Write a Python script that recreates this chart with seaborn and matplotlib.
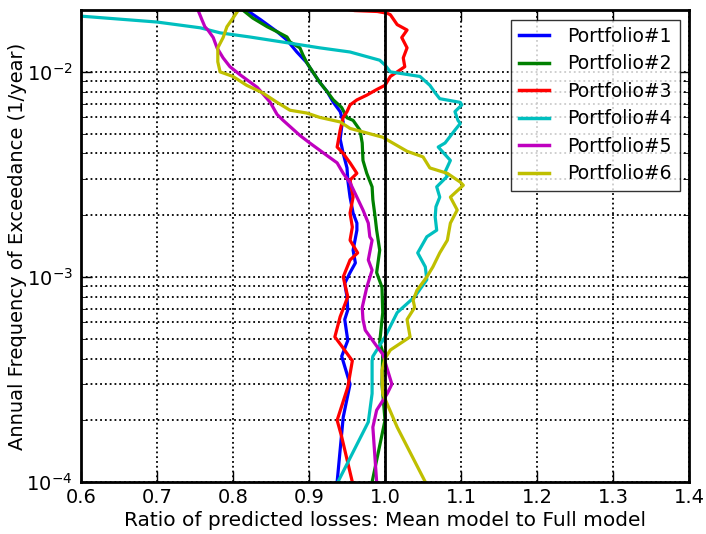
import matplotlib
matplotlib.use("Agg")
import matplotlib.pyplot as plt
import seaborn as sns
import pandas as pd
from matplotlib.ticker import LogLocator, NullFormatter

# Ratio (mean model / full model) and annual exceedance frequency for each portfolio
p1_ratio = [0.818, 0.836, 0.858, 0.871, 0.884, 0.897, 0.901, 0.914, 0.924, 0.932, 0.941, 0.945,
            0.943, 0.941, 0.945, 0.950, 0.951, 0.954, 0.958, 0.963, 0.963, 0.958, 0.961, 0.954,
            0.947, 0.950, 0.951, 0.947, 0.951, 0.943, 0.954, 0.945, 0.937]
p1_freq = [2.0e-2, 1.80e-2, 1.57e-2, 1.43e-2, 1.25e-2, 1.11e-2, 1.05e-2, 8.9e-3, 8.0e-3, 7.1e-3,
           6.4e-3, 5.7e-3, 5.4e-3, 4.7e-3, 4.0e-3, 3.4e-3, 2.97e-3, 2.45e-3, 2.05e-3, 1.83e-3,
           1.69e-3, 1.35e-3, 1.17e-3, 1.05e-3, 9.3e-4, 8.0e-4, 6.9e-4, 6.2e-4, 4.9e-4, 4.1e-4,
           3.0e-4, 2.07e-4, 1.0e-4]

p2_ratio = [0.813, 0.826, 0.845, 0.858, 0.871, 0.875, 0.888, 0.892, 0.897, 0.905, 0.914, 0.924,
            0.932, 0.943, 0.950, 0.958, 0.967, 0.970, 0.971, 0.976, 0.983, 0.984, 0.987, 0.989,
            0.993, 0.989, 0.996, 0.997, 0.993, 0.997, 0.996, 1.000, 0.983]
p2_freq = [2.0e-2, 1.83e-2, 1.66e-2, 1.57e-2, 1.48e-2, 1.40e-2, 1.31e-2, 1.21e-2, 1.11e-2, 1.0e-2,
           8.9e-3, 8.0e-3, 7.3e-3, 6.7e-3, 5.97e-3, 5.8e-3, 5.2e-3, 4.5e-3, 3.7e-3, 3.2e-3,
           2.75e-3, 2.38e-3, 1.96e-3, 1.69e-3, 1.35e-3, 1.05e-3, 8.9e-4, 6.7e-4, 4.8e-4, 4.3e-4,
           3.0e-4, 2.0e-4, 1.0e-4]

p3_ratio = [0.940, 0.960, 0.990, 1.003, 1.007, 1.016, 1.029, 1.022, 1.029, 1.024, 1.026, 1.016,
            1.007, 1.000, 0.989, 0.976, 0.963, 0.954, 0.950, 0.945, 0.941, 0.937, 0.945, 0.954,
            0.963, 0.954, 0.958, 0.954, 0.957, 0.954, 0.964, 0.954, 0.945, 0.951, 0.941, 0.934,
            0.943, 0.957, 0.951, 0.937, 0.943, 0.957]
p3_freq = [2.05e-2, 1.99e-2, 1.97e-2, 1.93e-2, 1.90e-2, 1.70e-2, 1.60e-2, 1.47e-2, 1.31e-2, 1.17e-2,
           1.06e-2, 1.0e-2, 9.5e-3, 8.6e-3, 8.2e-3, 7.7e-3, 7.3e-3, 6.9e-3, 6.4e-3, 6.0e-3,
           5.2e-3, 4.3e-3, 4.0e-3, 3.6e-3, 3.2e-3, 2.97e-3, 2.45e-3, 2.05e-3, 1.75e-3, 1.51e-3,
           1.31e-3, 1.21e-3, 1.0e-3, 8.0e-4, 6.4e-4, 5.1e-4, 4.6e-4, 3.9e-4, 2.9e-4, 2.0e-4,
           1.66e-4, 1.0e-4]

p4_ratio = [0.600, 0.700, 0.757, 0.783, 0.822, 0.875, 0.914, 0.954, 0.993, 1.000, 1.007, 1.046,
            1.059, 1.066, 1.072, 1.099, 1.101, 1.092, 1.096, 1.099, 1.092, 1.079, 1.070, 1.086,
            1.079, 1.082, 1.068, 1.072, 1.067, 1.066, 1.068, 1.055, 1.043, 1.053, 1.055, 1.039,
            1.016, 1.000, 0.984, 0.983, 0.983, 0.978, 0.938]
p4_freq = [1.87e-2, 1.75e-2, 1.64e-2, 1.55e-2, 1.48e-2, 1.38e-2, 1.31e-2, 1.25e-2, 1.14e-2, 1.08e-2,
           1.0e-2, 9.5e-3, 8.6e-3, 7.9e-3, 7.4e-3, 7.1e-3, 6.9e-3, 6.4e-3, 5.8e-3, 5.6e-3,
           5.2e-3, 4.5e-3, 4.3e-3, 3.7e-3, 3.25e-3, 3.1e-3, 2.75e-3, 2.45e-3, 2.2e-3, 1.96e-3,
           1.69e-3, 1.57e-3, 1.31e-3, 1.12e-3, 9.7e-4, 8.0e-4, 6.7e-4, 5.1e-4, 4.1e-4, 3.9e-4,
           2.7e-4, 1.96e-4, 1.0e-4]

p5_ratio = [0.754, 0.759, 0.763, 0.767, 0.774, 0.779, 0.787, 0.796, 0.809, 0.832, 0.849, 0.858,
            0.866, 0.888, 0.901, 0.924, 0.937, 0.945, 0.954, 0.963, 0.971, 0.978, 0.980, 0.983,
            0.978, 0.983, 0.976, 0.970, 0.971, 0.974, 0.989, 0.997, 1.009, 1.003, 0.989, 0.984,
            0.989]
p5_freq = [2.0e-2, 1.80e-2, 1.66e-2, 1.60e-2, 1.47e-2, 1.31e-2, 1.17e-2, 1.06e-2, 9.7e-3, 8.4e-3,
           7.1e-3, 6.2e-3, 5.8e-3, 4.9e-3, 4.5e-3, 3.9e-3, 3.6e-3, 3.2e-3, 2.88e-3, 2.45e-3,
           2.12e-3, 1.83e-3, 1.57e-3, 1.51e-3, 1.21e-3, 1.08e-3, 8.9e-4, 7.1e-4, 6.2e-4, 5.5e-4,
           4.6e-4, 4.2e-4, 3.0e-4, 2.7e-4, 2.24e-4, 1.85e-4, 1.0e-4]

p6_ratio = [0.807, 0.800, 0.792, 0.787, 0.780, 0.780, 0.783, 0.800, 0.818, 0.839, 0.858, 0.875,
            0.897, 0.914, 0.941, 0.954, 0.997, 1.029, 1.050, 1.059, 1.082, 1.099, 1.103, 1.086,
            1.095, 1.086, 1.082, 1.072, 1.063, 1.055, 1.042, 1.037, 1.039, 1.029, 1.033, 1.007,
            1.000, 0.996, 0.997, 1.016, 1.053]
p6_freq = [2.0e-2, 1.83e-2, 1.66e-2, 1.47e-2, 1.31e-2, 1.12e-2, 1.0e-2, 9.5e-3, 8.6e-3, 7.9e-3,
           7.1e-3, 6.5e-3, 6.3e-3, 6.0e-3, 5.7e-3, 5.3e-3, 4.8e-3, 4.1e-3, 3.85e-3, 3.4e-3,
           3.2e-3, 2.9e-3, 2.8e-3, 2.45e-3, 2.12e-3, 1.83e-3, 1.51e-3, 1.31e-3, 1.12e-3, 1.0e-3,
           8.6e-4, 7.7e-4, 7.1e-4, 6.2e-4, 5.1e-4, 4.4e-4, 4.0e-4, 3.5e-4, 2.7e-4, 1.85e-4,
           1.0e-4]

portfolios = ["Portfolio#1", "Portfolio#2", "Portfolio#3",
              "Portfolio#4", "Portfolio#5", "Portfolio#6"]
ratios = [p1_ratio, p2_ratio, p3_ratio, p4_ratio, p5_ratio, p6_ratio]
freqs = [p1_freq, p2_freq, p3_freq, p4_freq, p5_freq, p6_freq]
colors = ["#0000ff", "#008000", "#ff0000", "#00bfbf", "#bf00bf", "#bfbf00"]

rows = []
for name, rr, ff in zip(portfolios, ratios, freqs):
    for i, (r, f) in enumerate(zip(rr, ff)):
        rows.append({"portfolio": name, "order": i, "ratio": r, "freq": f})
df = pd.DataFrame(rows)

plt.rcParams.update({
    "font.family": ["DejaVu Sans"],
    "mathtext.default": "regular",
    "xtick.direction": "in",
    "ytick.direction": "in",
    "xtick.top": True,
    "ytick.right": True,
    "xtick.major.size": 8,
    "ytick.major.size": 8,
    "ytick.minor.size": 4,
    "xtick.major.width": 1.0,
    "ytick.major.width": 1.0,
    "axes.linewidth": 2.0,
})

fig = plt.figure(figsize=(7.06, 5.34), dpi=100)
ax = fig.add_axes([0.1147, 0.0974, 0.8613, 0.8836])

sns.lineplot(data=df, x="ratio", y="freq", hue="portfolio", palette=colors,
             hue_order=portfolios, estimator=None, sort=False, units="portfolio",
             linewidth=2.3, ax=ax)

ax.axvline(1.0, color="black", linewidth=2.0, zorder=3)

ax.set_yscale("log")
ax.set_xlim(0.6, 1.4)
ax.set_ylim(1e-4, 2e-2)
ax.set_xticks([0.6, 0.7, 0.8, 0.9, 1.0, 1.1, 1.2, 1.3, 1.4])
ax.yaxis.set_minor_locator(LogLocator(base=10, subs=range(2, 10)))
ax.yaxis.set_minor_formatter(NullFormatter())

ax.grid(True, axis="x", which="major", color="black", linestyle=":", linewidth=1.3)
ax.grid(True, axis="y", which="both", color="black", linestyle=":", linewidth=1.3)
ax.set_axisbelow(True)

ax.tick_params(axis="x", which="major", labelsize=14, pad=4)
ax.tick_params(axis="y", which="major", labelsize=14, pad=6)
ax.set_xlabel("Ratio of predicted losses: Mean model to Full model", fontsize=14.5)
ax.set_ylabel("Annual Frequency of Exceedance (1/year)", fontsize=14)
ax.yaxis.set_label_coords(-0.089, 0.5)
ax.xaxis.set_label_coords(0.5, -0.062)

leg = ax.legend(loc="upper right", fontsize=13.5, frameon=True, fancybox=False,
                handlelength=1.6, handletextpad=1.0, borderaxespad=0.5, labelspacing=0.45)
leg.get_frame().set_edgecolor("black")
leg.get_frame().set_linewidth(1.0)
for line in leg.get_lines():
    line.set_linewidth(2.5)

for s in ax.spines.values():
    s.set_color("black")

fig.savefig("out.png", dpi=100, facecolor="white")
